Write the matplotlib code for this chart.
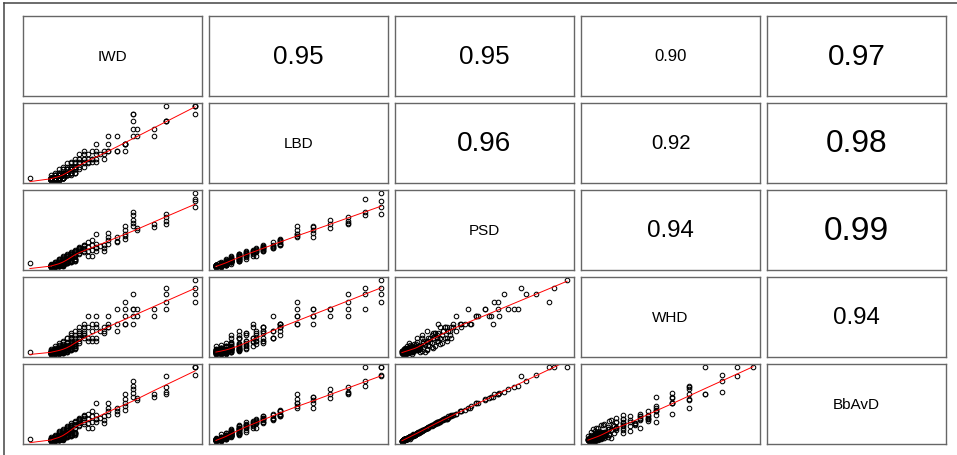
import numpy as np
import matplotlib
matplotlib.use("Agg")
import matplotlib.pyplot as plt
from matplotlib.lines import Line2D

plt.rcParams['font.family'] = ['Liberation Sans', 'DejaVu Sans']

names = ['IWD', 'LBD', 'PSD', 'WHD', 'BbAvD']

# one outlier, the cluster of small ones (three blocks), then the larger ones
IWD = [0,
       5, 5, 5, 5, 5, 5,
       6, 6, 6, 6, 6, 6, 6,
       7, 7, 7, 7, 7, 7, 7, 7,
       8, 8, 8, 8, 8, 8, 8, 8, 8,
       9, 9, 9, 9, 9, 9, 9, 9, 9,
       10, 10, 10, 10, 10, 10, 10, 10, 10,
       11, 11, 11, 11, 11, 11, 11, 11,
       12, 12, 12, 12, 12, 12, 12, 12,
       13, 13, 13, 13, 13, 13, 13,
       5, 5, 5, 5, 5, 5, 5, 5,
       6, 6, 6, 6, 6, 6, 6, 6, 6,
       7, 7, 7, 7, 7, 7, 7, 7, 7, 7,
       8, 8, 8, 8, 8, 8, 8, 8, 8, 8,
       9, 9, 9, 9, 9, 9, 9, 9, 9,
       10, 10, 10, 10, 10, 10, 10, 10,
       11, 11, 11, 11, 11, 11,
       5, 5, 5, 5, 5, 5, 5, 5, 5, 5, 5, 5,
       6, 6, 6, 6, 6, 6, 6, 6, 6, 6, 6, 6, 6, 6,
       7, 7, 7, 7, 7, 7, 7, 7, 7, 7, 7, 7,
       8, 8, 8, 8, 8, 8, 8, 8, 8, 8,
       40, 40, 40, 40, 33, 33, 33, 33, 30, 30, 26, 26, 25, 25, 25, 25, 25,
       23, 23, 23, 23, 23, 21, 21, 21, 19, 19, 19, 19, 18, 18, 18, 17,
       16, 16, 16, 16, 16, 15, 15, 15, 15, 14, 14, 14, 14]

LBD = [2,
       0, 3, 3, 6, 0, 3,
       3, 6, 3, 6, 9, 0, 6,
       6, 9, 3, 6, 9, 14, 6, 9,
       6, 9, 14, 9, 6, 14, 9, 18, 3,
       9, 14, 9, 14, 18, 6, 14, 22.5, 9,
       14, 18, 9, 14, 22.5, 18, 9, 24.5, 14,
       18, 14, 22.5, 18, 28.5, 14, 24.5, 18,
       22.5, 18, 28.5, 24.5, 14, 28.5, 22.5, 34.6,
       24.5, 28.5, 22.5, 34.6, 18, 28.5, 38.7,
       0, 3, 0, 3, 3, 0, 0, 3,
       3, 0, 3, 0, 6, 3, 3, 0, 3,
       3, 3, 6, 6, 3, 0, 6, 3, 6, 3,
       6, 6, 3, 6, 9, 3, 6, 6, 3, 9,
       6, 9, 9, 6, 6, 9, 6, 14, 9,
       9, 9, 14, 14, 6, 9, 14, 9,
       9, 14, 9, 14, 18, 9,
       0, 0, 3, 0, 3, 0, 3, 0, 0, 3, 3, 0,
       0, 3, 3, 0, 0, 3, 3, 0, 3, 0, 3, 0, 3, 3,
       3, 3, 3, 3, 6, 3, 0, 0, 6, 3, 3, 0,
       3, 3, 6, 3, 6, 6, 3, 3, 6, 3,
       100, 90, 100, 100, 100, 80, 80, 80, 69, 59, 59, 69, 90, 90, 69, 80, 59,
       49, 49, 49, 49, 38.7, 59, 38.7, 38.7, 59, 49, 38.7, 38.7, 38.7, 34.6, 28.5, 34.6,
       49, 34.6, 38.7, 28.5, 24.5, 38.7, 28.5, 28.5, 24.5, 34.6, 28.5, 24.5, 22.5]

PSD = [5,
       1, 2, 0, 3, 2, 4,
       3, 5, 2, 6, 4, 3, 7,
       6, 8, 5, 9, 7, 10, 4, 11,
       8, 10, 12, 9, 6, 14, 11, 13, 7,
       11, 13, 9, 15, 16, 10, 12, 17, 14,
       14, 16, 12, 18, 19, 15, 13, 20, 17,
       18, 16, 20, 21, 22, 15, 23, 19,
       21, 19, 24, 25, 18, 27, 23, 26,
       24, 28, 22, 30, 20, 26, 29,
       0, 0.5, 1.5, 2, 0.5, 1, 0.5, 2,
       1, 2.5, 2, 3, 3.5, 0.5, 3, 2.5, 1.5,
       2.5, 2, 3.5, 4, 3, 2.5, 5, 3.5, 5.5, 2,
       3, 4.5, 5, 5.5, 6, 3.5, 6.5, 5, 2.5, 7.5,
       5, 6, 6.5, 4.5, 7.5, 8, 5.5, 8.5, 9,
       6, 7.5, 8.5, 8, 6.5, 9, 10, 7.5,
       8, 9, 10.5, 10, 11, 8.5,
       0.5, 1, 1.5, 0, 0.5, 2, 1, 0.5, 0, 1.5, 1, 1,
       0.5, 1, 1.5, 2, 0, 2.5, 1, 0.5, 1.5, 2, 0, 1, 2.5, 1.5,
       1, 2, 2.5, 1.5, 3, 3.5, 0.5, 1, 2.5, 3, 2, 1.5,
       2, 2.5, 3, 1.5, 3.5, 4, 2.5, 1, 4.5, 3,
       100, 92, 89, 81, 72, 62, 58, 68, 58, 54, 50, 53, 75, 70, 64, 59, 55,
       56, 50, 45, 42, 38, 40, 35, 33, 46, 41, 36, 31, 30, 25, 22, 28,
       45, 27, 31, 26, 21, 36, 29, 23, 15, 33, 27, 21, 15]

WHD = [3,
       0, 2, 4, 1, 6, 3,
       2, 5, 8, 0, 4, 10, 6,
       3, 8, 12, 5, 2, 10, 14, 7,
       6, 11, 4, 16, 9, 13, 2, 17, 7,
       8, 14, 21.5, 5, 12, 10, 21.5, 16, 3,
       12, 17, 25.5, 9, 21.5, 6, 14, 28.5, 21.5,
       15, 21.5, 10, 25.5, 17, 31.6, 13, 8,
       21.5, 28.5, 14, 31.6, 25.5, 17, 36.6, 21.5,
       25.5, 31.6, 41, 21.5, 28.5, 36.6, 25.5,
       0.5, 0, 2, 3, 1.5, 2.5, 4, 0.5,
       2, 3.5, 0.5, 2.5, 5.5, 1.5, 3, 4.5, 6.5,
       2.5, 5.5, 0.5, 3.5, 6.5, 2, 5, 8, 3, 4.5,
       3, 5, 7.5, 2, 6, 8.5, 4.5, 5.5, 1, 9,
       3.5, 5.5, 6.5, 2.5, 9, 8, 10.5, 5, 6,
       6, 4.5, 8, 6.5, 10.5, 9, 5.5, 13,
       7.5, 8.5, 10, 6.5, 10.5, 13,
       0, 1.5, 1, 2.5, 2, 0, 3, 1, 3.5, 0.5, 1.5, 4.5,
       0.5, 1.5, 1, 3, 4, 0, 2, 2.5, 3.5, 4.5, 0.5, 5, 2, 3,
       1, 2.5, 3, 0.5, 4, 5, 2.5, 6, 1.5, 3.5, 0, 4.5,
       1.5, 3, 4, 5.5, 2, 6, 1, 3.5, 4.5, 6.5,
       100, 90, 71, 81, 90, 81, 71, 61, 61, 51, 61, 51, 81, 61, 61, 51, 41,
       71, 61, 51, 41, 41, 61, 41, 31.6, 51, 41, 36.6, 36.6, 36.6, 31.6, 28.5, 31.6,
       51, 21.5, 41, 36.6, 17, 41, 31.6, 21.5, 17, 51, 36.6, 21.5, 17]

BbAvD = [3,
         1, 2, 0, 4, 3, 5,
         3, 6, 2, 7, 5, 4, 8,
         6, 9, 5, 10, 8, 12, 4, 13,
         8, 11, 13, 10, 7, 16, 12, 15, 9,
         12, 15, 10, 17, 19, 11, 14, 20, 16,
         16, 19, 13, 21, 22, 17, 14, 24, 20,
         21, 18, 23, 25, 26, 17, 27, 22,
         24, 22, 28, 29, 20, 31, 27, 30,
         28, 33, 25, 35, 23, 31, 34,
         0, 0.5, 1.5, 2, 0.5, 2, 1, 2.5,
         1.5, 2.5, 2, 3, 3.5, 0.5, 3.5, 2.5, 2,
         3, 2, 3.5, 5, 3, 2.5, 5.5, 4, 6, 1.5,
         3.5, 5, 5.5, 6, 6.5, 4, 7.5, 5.5, 3, 8.5,
         5.5, 6.5, 7, 5, 8, 8.5, 6, 9.5, 10.5,
         6.5, 8, 9, 8.5, 7, 10.5, 11, 8,
         8.5, 10, 11, 10.5, 12, 9,
         0.5, 1, 1.5, 0, 1, 2, 1.5, 0.5, 0, 1.5, 1, 0.5,
         0.5, 1, 2, 2.5, 0, 2.5, 1.5, 0.5, 1, 2, 0, 1, 3, 1.5,
         1, 2, 2.5, 1.5, 3, 3.5, 0.5, 1, 2.5, 3, 2, 1.5,
         2.5, 3, 3, 2, 4, 4.5, 3, 1.5, 5, 3.5,
         100, 100, 100, 89, 88, 67, 63, 73, 63, 60, 56, 58, 81, 75, 70, 65, 60,
         63, 57, 52, 47, 42, 44, 40, 37, 51, 45, 40, 35, 33, 28, 24, 31,
         51, 30, 35, 30, 25, 40, 33, 26, 17, 37, 30, 24, 17]

# correlations shown in the upper panels, row by row
cor_pairs = [(0, 1), (0, 2), (0, 3), (0, 4), (1, 2), (1, 3), (1, 4), (2, 3), (2, 4), (3, 4)]
cor_values = [0.95, 0.95, 0.90, 0.97, 0.96, 0.92, 0.98, 0.94, 0.99, 0.94]

data = [np.array(v, dtype=float) for v in (IWD, LBD, PSD, WHD, BbAvD)]
cors = dict(zip(cor_pairs, cor_values))


def lowess(x, y, f=2/3, iters=3):
    order = np.argsort(x, kind='mergesort')
    x = x[order]
    y = y[order]
    n = len(x)
    ns = max(2, min(n, int(f * n + 1e-7)))
    fitted = np.zeros(n)
    rw = np.ones(n)
    for it in range(iters + 1):
        for i in range(n):
            d = np.abs(x - x[i])
            h = np.sort(d)[ns - 1]
            if h <= 0:
                h = 1e-9
            u = np.clip(d / h, 0, 1)
            w = (1 - u**3)**3 * rw
            sw = w.sum()
            xm = (w * x).sum() / sw
            ym = (w * y).sum() / sw
            den = (w * (x - xm)**2).sum()
            b = (w * (x - xm) * (y - ym)).sum() / den if den > 1e-12 else 0.0
            fitted[i] = ym + b * (x[i] - xm)
        if it < iters:
            res = y - fitted
            m = np.median(np.abs(res))
            if m == 0:
                break
            u = res / (6 * m)
            rw = np.where(np.abs(u) < 1, (1 - u**2)**2, 0.0)
    return x, fitted


def padded(v):
    lo, hi = v.min(), v.max()
    r = hi - lo
    return lo - 0.04 * r, hi + 0.04 * r


W, H = 957, 456
fig = plt.figure(figsize=(W / 100, H / 100), dpi=100)

pw, ph = 178.4, 79.4
for i in range(5):
    for j in range(5):
        left = (23.3 + 186 * j) / W
        bottom = 1 - (17.3 + 87 * i + ph) / H
        ax = fig.add_axes([left, bottom, pw / W, ph / H])
        ax.set_xticks([])
        ax.set_yticks([])
        for s in ax.spines.values():
            s.set_color('#666666')
            s.set_linewidth(1.0)
        if i == j:
            ax.text(0.5, 0.5, names[i], ha='center', va='center', fontsize=11,
                    transform=ax.transAxes)
        elif i < j:
            r = cors[(i, j)]
            ax.text(0.5, 0.5, f'{r:.2f}', ha='center', va='center',
                    fontsize=12 + (r - 0.90) * 135, transform=ax.transAxes)
        else:
            x = data[j]
            y = data[i]
            ax.plot(x, y, 'o', markerfacecolor='none', markeredgecolor='black',
                    markersize=3.3, markeredgewidth=0.75)
            lx, ly = lowess(x, y)
            ax.plot(lx, ly, color='red', linewidth=0.7)
            ax.set_xlim(*padded(x))
            ax.set_ylim(*padded(y))

# outer frame of the screenshot
fig.add_artist(Line2D([4 / W, 1], [1 - 4 / H, 1 - 4 / H], transform=fig.transFigure,
                      color='#444444', linewidth=1.1))
fig.add_artist(Line2D([4 / W, 4 / W], [0, 1 - 4 / H], transform=fig.transFigure,
                      color='#444444', linewidth=1.1))

fig.savefig('out.png', dpi=100)
